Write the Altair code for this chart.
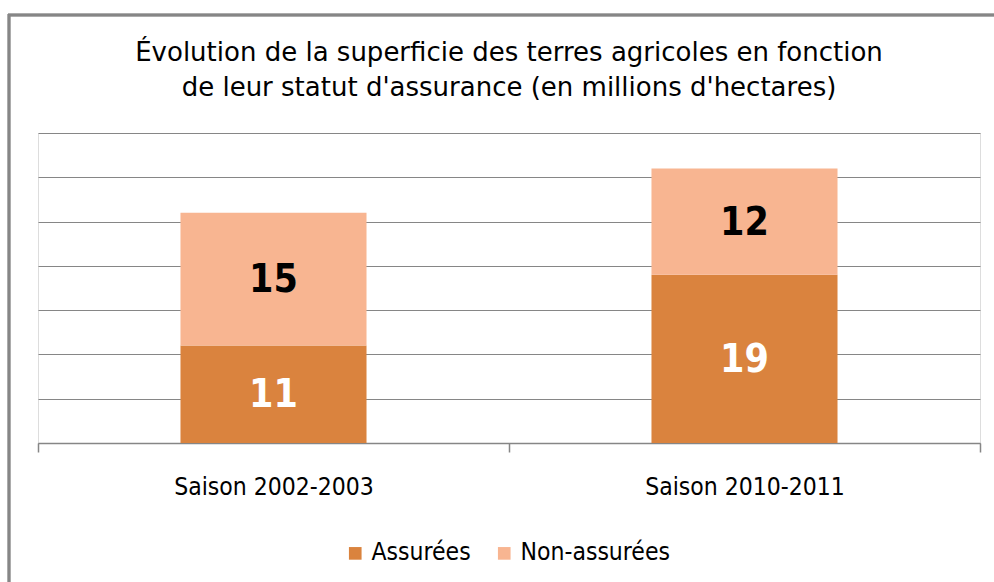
import altair as alt
import pandas as pd

saisons = ["Saison 2002-2003", "Saison 2010-2011"]
series = ["Assurées", "Non-assurées"]
assurees = [11, 19]
non_assurees = [15, 12]
couleurs = ["#DA833E", "#F8B591"]
titre = ["Évolution de la superficie des terres agricoles en fonction",
         "de leur statut d'assurance (en millions d'hectares)"]

rows = []
for i, s in enumerate(saisons):
    base = 0
    for k, (serie, vals) in enumerate(zip(series, [assurees, non_assurees])):
        v = vals[i]
        rows.append({"saison": s, "serie": serie, "ordre": k, "valeur": v,
                     "milieu": base + v / 2})
        base += v
df = pd.DataFrame(rows)

FONT = "DejaVu Sans Condensed"
GRID = "#868686"

x_enc = alt.X("saison:N", sort=saisons, title=None,
              scale=alt.Scale(paddingInner=0, paddingOuter=0),
              axis=alt.Axis(labelAngle=0, tickBand="extent", labelFontSize=24.5,
                            labelFont=FONT, labelColor="#000000", labelPadding=23,
                            labelLimit=500,
                            tickSize=9, tickColor=GRID, domainColor=GRID,
                            tickWidth=1.5, domainWidth=1.5, grid=False))
y_scale = alt.Scale(domain=[0, 35], nice=False)

bars = alt.Chart(df).mark_bar(width=alt.RelativeBandSize(0.395)).encode(
    x=x_enc,
    y=alt.Y("valeur:Q", stack="zero", scale=y_scale, title=None,
            axis=alt.Axis(values=[0, 5, 10, 15, 20, 25, 30, 35], labels=False,
                          ticks=False, domain=False, grid=True,
                          gridColor=GRID, gridWidth=1.2)),
    color=alt.Color("serie:N", scale=alt.Scale(domain=series, range=couleurs),
                    legend=alt.Legend(title=None, orient="none", direction="horizontal",
                                      legendX=305, legendY=408, symbolType="square",
                                      symbolSize=160, symbolStrokeWidth=0,
                                      labelFontSize=24.5, labelFont=FONT,
                                      labelColor="#000000", columnPadding=21,
                                      labelOffset=4, labelLimit=500)),
    order=alt.Order("ordre:Q"),
)

labels = alt.Chart(df).mark_text(fontSize=39, fontWeight="bold", font=FONT,
                                 baseline="middle", dy=1).encode(
    x=alt.X("saison:N", sort=saisons),
    y=alt.Y("milieu:Q", scale=y_scale),
    text=alt.Text("valeur:Q"),
    color=alt.condition(alt.datum.serie == "Assurées", alt.value("#FFFFFF"),
                        alt.value("#000000")),
)

frame_left = alt.Chart(df).mark_rule(color=GRID, strokeWidth=2.5).encode(
    x=alt.value(-29), y=alt.value(-119), y2=alt.value(460))
frame_top = alt.Chart(df).mark_rule(color=GRID, strokeWidth=2.5).encode(
    x=alt.value(-30), x2=alt.value(1000), y=alt.value(-118))

chart = alt.layer(frame_left, frame_top, bars, labels).properties(
    width=942, height=310,
    autosize=alt.AutoSizeParams(type="none"),
    padding={"left": 38, "top": 133, "right": 14, "bottom": 139},
    title=alt.Title(titre, font="DejaVu Sans", fontSize=26, fontWeight="normal",
                    color="#000000", anchor="middle", offset=0, dy=88,
                    lineHeight=35),
).configure_view(stroke=None).configure(background="#FFFFFF")

chart.save("out.html", embed_options={"renderer": "svg", "actions": False})
